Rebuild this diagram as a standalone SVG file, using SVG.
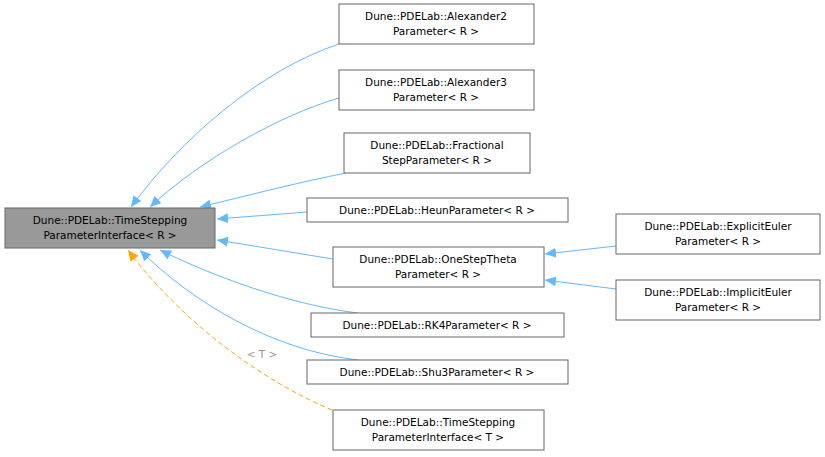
<svg xmlns="http://www.w3.org/2000/svg" width="825" height="457" viewBox="0 0 825 457">
<style>
.n rect{fill:#fff;stroke:#666;stroke-width:1}
.root rect{fill:#999}
text{font-family:"DejaVu Sans",sans-serif;font-size:10.5px;text-anchor:middle;fill:#000}
.e{fill:none;stroke:#63b8ff;stroke-width:1;marker-end:url(#a)}
.t{fill:none;stroke:#ffa500;stroke-width:1;stroke-dasharray:5,3;marker-end:url(#o)}
</style>
<defs>
<marker id="a" markerWidth="12" markerHeight="10" refX="11" refY="5" orient="auto" markerUnits="userSpaceOnUse"><path d="M0,0 L11,5 L0,10 z" fill="#63b8ff"/></marker>
<marker id="o" markerWidth="12" markerHeight="10" refX="11" refY="5" orient="auto" markerUnits="userSpaceOnUse"><path d="M0,0 L11,5 L0,10 z" fill="#ffa500"/></marker>
</defs>
<g id="edges">
<path class="e" d="M339,44 C260,70 180,140 131,207"/>
<path class="e" d="M339,98 C280,115 200,160 150,207"/>
<path class="e" d="M346,173 C300,182 250,195 200,207"/>
<path class="e" d="M307,212 L217,219"/>
<path class="e" d="M333,259 L217,240"/>
<path class="e" d="M358,313 C290,305 210,275 160,250"/>
<path class="e" d="M358,360 C270,350 190,300 140,250"/>
<path class="t" d="M332,410 C260,380 180,320 128,250"/>
<path class="e" d="M616,246 L545,254"/>
<path class="e" d="M616,289 L545,280"/>
<text x="262" y="358" style="fill:#999">&lt; T &gt;</text>
</g>
<g id="root" class="n root"><rect x="5" y="208" width="210" height="40"/><text x="110" y="224">Dune::PDELab::TimeStepping</text><text x="110" y="239">ParameterInterface&lt; R &gt;</text></g>
<g id="alex2" class="n"><rect x="339" y="4" width="195" height="40"/><text x="436" y="20">Dune::PDELab::Alexander2</text><text x="436" y="35">Parameter&lt; R &gt;</text></g>
<g id="alex3" class="n"><rect x="339" y="70" width="195" height="40"/><text x="436" y="86">Dune::PDELab::Alexander3</text><text x="436" y="101">Parameter&lt; R &gt;</text></g>
<g id="frac" class="n"><rect x="344" y="133" width="186" height="40"/><text x="437" y="149">Dune::PDELab::Fractional</text><text x="437" y="164">StepParameter&lt; R &gt;</text></g>
<g id="heun" class="n"><rect x="307" y="198" width="261" height="24"/><text x="437" y="214">Dune::PDELab::HeunParameter&lt; R &gt;</text></g>
<g id="ost" class="n"><rect x="333" y="247" width="211" height="40"/><text x="438" y="263">Dune::PDELab::OneStepTheta</text><text x="438" y="278">Parameter&lt; R &gt;</text></g>
<g id="rk4" class="n"><rect x="311" y="313" width="253" height="24"/><text x="437" y="329">Dune::PDELab::RK4Parameter&lt; R &gt;</text></g>
<g id="shu3" class="n"><rect x="307" y="360" width="261" height="24"/><text x="437" y="376">Dune::PDELab::Shu3Parameter&lt; R &gt;</text></g>
<g id="tsT" class="n"><rect x="333" y="410" width="211" height="40"/><text x="438" y="426">Dune::PDELab::TimeStepping</text><text x="438" y="441">ParameterInterface&lt; T &gt;</text></g>
<g id="expl" class="n"><rect x="616" y="214" width="204" height="40"/><text x="718" y="230">Dune::PDELab::ExplicitEuler</text><text x="718" y="245">Parameter&lt; R &gt;</text></g>
<g id="impl" class="n"><rect x="616" y="280" width="204" height="40"/><text x="718" y="296">Dune::PDELab::ImplicitEuler</text><text x="718" y="311">Parameter&lt; R &gt;</text></g>
</svg>
